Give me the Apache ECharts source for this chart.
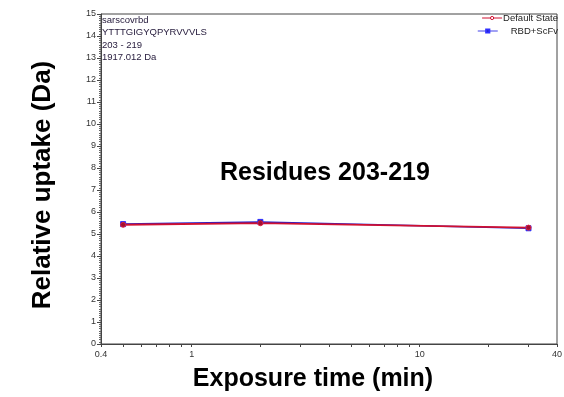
<!DOCTYPE html>
<html>
<head>
<meta charset="utf-8">
<script src="https://cdn.jsdelivr.net/npm/echarts@6.0.0/dist/echarts.min.js"></script>
<style>
  html, body { margin: 0; padding: 0; background: #fff; }
  #chart { width: 564px; height: 397px; }
</style>
</head>
<body>
<div id="chart"></div>
<script>
// exposure times (min) and uptake values (Da)
const times = [0.5, 2, 30];
const defaultState = [5.42, 5.49, 5.29];
const rbdScfv = [5.45, 5.55, 5.26];
const xLabels = [0.4, 1, 10, 40];
const xTicks = [0.4, 0.5, 0.6, 0.7, 0.8, 0.9, 1, 2, 3, 4, 5, 6, 7, 8, 9, 10, 20, 30, 40];
const infoLines = ['sarscovrbd', 'YTTTGIGYQPYRVVVLS', '203 - 219', '1917.012 Da'];

const chart = echarts.init(document.getElementById('chart'));
const font = 'Liberation Sans, Arial, sans-serif';

const option = {
  backgroundColor: '#fff',
  animation: false,
  textStyle: { fontFamily: font },
  grid: {
    left: 101, right: 7, top: 14, bottom: 53,
    outerBoundsMode: 'none',
    show: true, borderColor: '#444', borderWidth: 1
  },
  legend: [
    {
      data: [{
        name: 'Default State',
        itemStyle: { color: '#fff', borderColor: '#d01030', borderWidth: 1 }
      }],
      right: 6, top: 13, padding: 0,
      itemWidth: 20, itemHeight: 4, itemGap: 2,
      lineStyle: { width: 1 },
      textStyle: { fontSize: 9.5, color: '#222', fontFamily: font, padding: [0, 0, 0, -4] }
    },
    {
      data: ['RBD+ScFv'],
      right: 6, top: 26, padding: 0,
      itemWidth: 20, itemHeight: 4, itemGap: 2,
      lineStyle: { width: 1.5, color: '#8080f0' },
      textStyle: { fontSize: 9.5, color: '#222', fontFamily: font, padding: [0, 0, 0, 8] }
    }
  ],
  xAxis: {
    type: 'log', logBase: 10, min: 0.4, max: 40,
    name: 'Exposure time (min)', nameLocation: 'middle', nameGap: 23,
    nameTextStyle: {
      fontSize: 25, fontWeight: 'bold', color: '#000', fontFamily: font,
      padding: [0, 32, 0, 0]
    },
    axisLine: { lineStyle: { color: '#444' } },
    axisTick: { customValues: xTicks, length: 3, lineStyle: { color: '#444' } },
    axisLabel: { customValues: xLabels, fontSize: 9, color: '#333', margin: 6 },
    splitLine: { show: false }
  },
  yAxis: {
    type: 'value', min: 0, max: 15, interval: 1,
    name: 'Relative uptake (Da)', nameLocation: 'middle', nameGap: 45,
    nameTextStyle: {
      fontSize: 26, fontWeight: 'bold', color: '#000', fontFamily: font,
      padding: [0, 12, 0, 0]
    },
    axisLine: { show: true, lineStyle: { color: '#444' } },
    axisTick: { show: true, length: 4, lineStyle: { color: '#444' } },
    minorTick: { show: true, splitNumber: 10, length: 2, lineStyle: { color: '#666' } },
    axisLabel: { fontSize: 9, color: '#333', margin: 5 },
    splitLine: { show: false }
  },
  graphic: [
    {
      type: 'text', left: 102, top: 14,
      style: {
        text: infoLines.join('\n'), fontSize: 9.5, lineHeight: 12.5,
        fill: '#2a2040', fontFamily: font
      }
    },
    {
      type: 'text', left: 220, top: 161,
      style: {
        text: 'Residues 203-219', fontSize: 25, fontWeight: 'bold',
        fill: '#000', fontFamily: font
      }
    }
  ],
  series: [
    {
      name: 'RBD+ScFv', type: 'line',
      data: times.map((t, i) => [t, rbdScfv[i]]),
      symbol: 'rect', symbolSize: 5,
      lineStyle: { color: '#2020d0', width: 1.5 },
      itemStyle: { color: '#1a1a9a', borderColor: '#3030ff', borderWidth: 1 }
    },
    {
      name: 'Default State', type: 'line',
      data: times.map((t, i) => [t, defaultState[i]]),
      symbol: 'circle', symbolSize: 5,
      lineStyle: { color: '#d01030', width: 1.8 },
      itemStyle: { color: '#a01030', borderColor: '#e02040', borderWidth: 1 }
    }
  ]
};

chart.setOption(option);
</script>
</body>
</html>
